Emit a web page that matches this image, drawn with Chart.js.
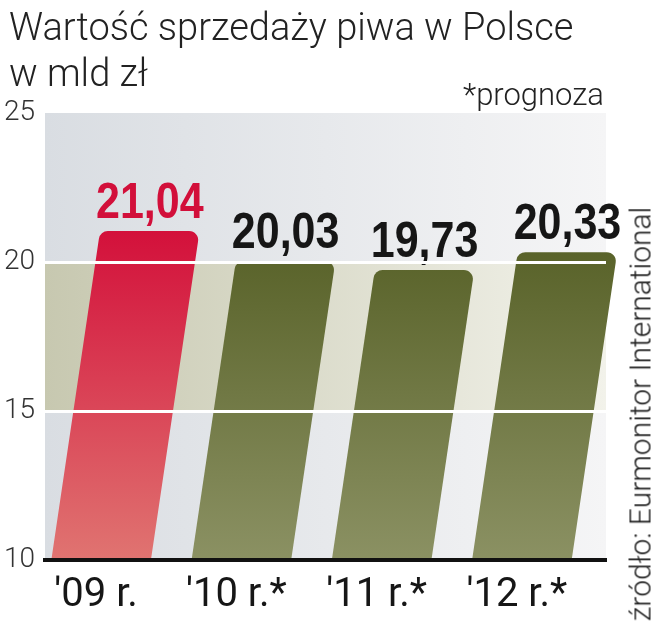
<!DOCTYPE html>
<html>
<head>
<meta charset="utf-8">
<script src="https://cdn.jsdelivr.net/npm/chart.js@4.4.0/dist/chart.umd.min.js"></script>
<style>
  html, body { margin: 0; padding: 0; background: #fff; }
  #wrap { position: relative; width: 658px; height: 640px; overflow: hidden; }
  #c { position: absolute; left: 0; top: 0; }
  .t { position: absolute; font-family: Roboto, 'Liberation Sans', sans-serif; font-weight: 300; color: #222; white-space: nowrap; }
  #title { left: 9px; top: 4px; font-size: 38px; line-height: 46px; }
  #prog { left: 463px; top: 76px; font-size: 31px; }
  #src { left: 640px; top: 414px; font-size: 30px; transform: translate(-50%, -50%) rotate(-90deg); }
</style>
</head>
<body>
<div id="wrap">
  <canvas id="c" width="658" height="640"></canvas>
  <div class="t" id="title">Wartość sprzedaży piwa w Polsce<br>w mld zł</div>
  <div class="t" id="prog">*prognoza</div>
  <div class="t" id="src">źródło: Eurmonitor International</div>
</div>
<script>
// dane
const years = ["'09 r.", "'10 r.*", "'11 r.*", "'12 r.*"];
const values = [21.04, 20.03, 19.73, 20.33];
const valueLabels = ['21,04', '20,03', '19,73', '20,33'];
const yMin = 10, yMax = 25, yStep = 5;
const whiteLines = [15, 20];
const bandOlive = [15, 20];

// tło z pasami
const bgPlugin = {
  id: 'bands',
  beforeDraw(chart) {
    const { ctx, chartArea: { left, right, top, bottom }, scales: { y } } = chart;
    const grey = ctx.createLinearGradient(left, 0, right, 0);
    grey.addColorStop(0, '#d9dde2'); grey.addColorStop(1, '#f5f5f6');
    const olive = ctx.createLinearGradient(left, 0, right, 0);
    olive.addColorStop(0, '#c7c8b0'); olive.addColorStop(1, '#f2f2ea');
    ctx.save();
    ctx.fillStyle = grey;
    ctx.fillRect(left, top, right - left, bottom - top);
    const y1 = y.getPixelForValue(bandOlive[1]), y0 = y.getPixelForValue(bandOlive[0]);
    ctx.fillStyle = olive;
    ctx.fillRect(left, y1, right - left, y0 - y1);
    ctx.restore();
  }
};

// pochylone słupki
const slantPlugin = {
  id: 'slant',
  afterDatasetsDraw(chart) {
    const { ctx, scales: { y } } = chart;
    const meta = chart.getDatasetMeta(0);
    const shift = -14, slope = 0.148, r = 9;
    const gTop = y.getPixelForValue(21.2), gBot = y.getPixelForValue(yMin);
    const red = ctx.createLinearGradient(0, gTop, 0, gBot);
    red.addColorStop(0, '#d30f3a'); red.addColorStop(1, '#e07471');
    const green = ctx.createLinearGradient(0, gTop, 0, gBot);
    green.addColorStop(0, '#555f25'); green.addColorStop(1, '#8b9163');
    meta.data.forEach((el, i) => {
      const { x, y: top, width } = el.getProps(['x', 'y', 'width'], true);
      const base = y.getPixelForValue(yMin);
      const w = width / 2;
      const xb = x + shift, xt = xb + slope * (base - top);
      ctx.save();
      ctx.beginPath();
      ctx.moveTo(xb - w, base);
      ctx.lineTo(xb + w, base);
      ctx.arcTo(xt + w, top, xt - w, top, r);
      ctx.arcTo(xt - w, top, xb - w, base, r);
      ctx.closePath();
      ctx.fillStyle = i === 0 ? red : green;
      ctx.fill();
      ctx.translate(xt, top - 13);
      ctx.scale(0.86, 1);
      ctx.font = "bold 50px 'Liberation Sans', Arial, sans-serif";
      ctx.textAlign = 'center';
      ctx.textBaseline = 'alphabetic';
      ctx.fillStyle = i === 0 ? '#d20f3a' : '#161616';
      ctx.fillText(valueLabels[i], 0, 0);
      ctx.restore();
    });
  }
};

new Chart(document.getElementById('c'), {
  type: 'bar',
  data: {
    labels: years,
    datasets: [{ data: values, base: yMin, backgroundColor: 'rgba(0,0,0,0)', borderWidth: 0, barPercentage: 0.71, categoryPercentage: 1 }]
  },
  options: {
    responsive: false, maintainAspectRatio: false, animation: false,
    layout: { padding: { top: 113, right: 52, left: 0, bottom: 0 } },
    plugins: { legend: { display: false }, tooltip: { enabled: false } },
    scales: {
      x: {
        z: 1,
        grid: { display: false, drawTicks: false },
        border: { display: true, color: '#111', width: 4, z: 2 },
        ticks: { color: '#161616', font: { family: 'Roboto', size: 40 }, padding: 12, labelOffset: -19, maxRotation: 0 },
        afterFit(s) { s.height = 80; }
      },
      y: {
        z: 1,
        min: yMin, max: yMax,
        grid: { z: 1, drawTicks: false, lineWidth: 3, color: c => whiteLines.includes(c.tick.value) ? '#ffffff' : 'rgba(0,0,0,0)' },
        border: { display: false },
        ticks: { stepSize: yStep, color: '#333', font: { family: 'Roboto', size: 28, weight: '300' }, padding: 10 },
        afterFit(s) { s.width = 45; }
      }
    }
  },
  plugins: [bgPlugin, slantPlugin]
});
</script>
</body>
</html>
